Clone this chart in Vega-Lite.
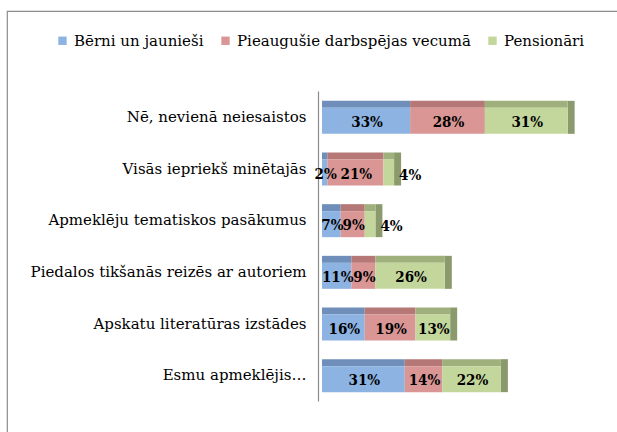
{
  "$schema": "https://vega.github.io/schema/vega-lite/v6.json",
  "width": 620,
  "height": 430,
  "autosize": "none",
  "padding": {"left": 7, "top": 11, "right": 0, "bottom": 0},
  "background": "white",
  "config": {
    "view": {"stroke": "#8c8c8c", "strokeWidth": 1.2},
    "font": "DejaVu Serif"
  },
  "data": {
    "values": [
      {"category": "Nē, nevienā neiesaistos", "group": "Bērni un jaunieši", "value": 0.33},
      {"category": "Nē, nevienā neiesaistos", "group": "Pieaugušie darbspējas vecumā", "value": 0.28},
      {"category": "Nē, nevienā neiesaistos", "group": "Pensionāri", "value": 0.31},
      {"category": "Visās iepriekš minētajās", "group": "Bērni un jaunieši", "value": 0.02},
      {"category": "Visās iepriekš minētajās", "group": "Pieaugušie darbspējas vecumā", "value": 0.21},
      {"category": "Visās iepriekš minētajās", "group": "Pensionāri", "value": 0.04},
      {"category": "Apmeklēju tematiskos pasākumus", "group": "Bērni un jaunieši", "value": 0.07},
      {"category": "Apmeklēju tematiskos pasākumus", "group": "Pieaugušie darbspējas vecumā", "value": 0.09},
      {"category": "Apmeklēju tematiskos pasākumus", "group": "Pensionāri", "value": 0.04},
      {"category": "Piedalos tikšanās reizēs ar autoriem", "group": "Bērni un jaunieši", "value": 0.11},
      {"category": "Piedalos tikšanās reizēs ar autoriem", "group": "Pieaugušie darbspējas vecumā", "value": 0.09},
      {"category": "Piedalos tikšanās reizēs ar autoriem", "group": "Pensionāri", "value": 0.26},
      {"category": "Apskatu literatūras izstādes", "group": "Bērni un jaunieši", "value": 0.16},
      {"category": "Apskatu literatūras izstādes", "group": "Pieaugušie darbspējas vecumā", "value": 0.19},
      {"category": "Apskatu literatūras izstādes", "group": "Pensionāri", "value": 0.13},
      {"category": "Esmu apmeklējis…", "group": "Bērni un jaunieši", "value": 0.31},
      {"category": "Esmu apmeklējis…", "group": "Pieaugušie darbspējas vecumā", "value": 0.14},
      {"category": "Esmu apmeklējis…", "group": "Pensionāri", "value": 0.22}
    ]
  },
  "transform": [
    {"calculate": "indexof(['Bērni un jaunieši','Pieaugušie darbspējas vecumā','Pensionāri'], datum.group)", "as": "ord"},
    {"stack": "value", "groupby": ["category"], "sort": [{"field": "ord", "order": "ascending"}], "as": ["x0", "x1"]},
    {"calculate": "(datum.x0 + datum.x1) / 2", "as": "xm"}
  ],
  "encoding": {
    "y": {
      "field": "category",
      "type": "nominal",
      "sort": null,
      "scale": {"range": [80, 390], "paddingInner": 0, "paddingOuter": 0},
      "axis": {
        "title": null,
        "orient": "left",
        "offset": -311,
        "ticks": false,
        "domainColor": "#8c8c8c",
        "domainWidth": 1.2,
        "labelPadding": 12,
        "labelFontSize": 15,
        "labelColor": "#000000",
        "labelLimit": 320
      }
    }
  },
  "layer": [
    {
      "transform": [{"filter": "datum.group === 'Pensionāri'"}],
      "mark": {"type": "tick", "orient": "vertical", "thickness": 7, "size": 33, "xOffset": 3.5, "yOffset": 0.5, "color": "#8a9a6c", "opacity": 1},
      "encoding": {
        "x": {"field": "x1", "type": "quantitative", "scale": {"domain": [0, 1], "range": [315, 582]}, "axis": null}
      }
    },
    {
      "mark": {"type": "bar", "size": 7, "yOffset": -12.5},
      "encoding": {
        "x": {"field": "x0", "type": "quantitative", "axis": null},
        "x2": {"field": "x1"},
        "color": {
          "field": "group",
          "type": "nominal",
          "scale": {
            "domain": ["Bērni un jaunieši", "Pieaugušie darbspējas vecumā", "Pensionāri"],
            "range": ["#6f8fba", "#b57876", "#9fb07d"]
          },
          "legend": null
        }
      }
    },
    {
      "mark": {"type": "bar", "size": 26, "yOffset": 4},
      "encoding": {
        "x": {"field": "x0", "type": "quantitative"},
        "x2": {"field": "x1"},
        "color": {
          "field": "group",
          "type": "nominal",
          "scale": {
            "domain": ["Bērni un jaunieši", "Pieaugušie darbspējas vecumā", "Pensionāri"],
            "range": ["#8db3e2", "#d99694", "#c3d69b"]
          },
          "legend": {
            "orient": "none",
            "legendX": 48,
            "legendY": 22,
            "direction": "horizontal",
            "title": null,
            "symbolType": "square",
            "symbolSize": 70,
            "symbolStrokeWidth": 0,
            "labelFontSize": 15,
            "labelColor": "#000000",
            "labelLimit": 300,
            "columnPadding": 14
          }
        }
      }
    },
    {
      "transform": [{"filter": "!(datum.group === 'Pensionāri' && datum.value < 0.06)"}],
      "mark": {"type": "text", "font": "'DejaVu Serif Condensed', 'DejaVu Serif'", "fontWeight": "bold", "fontSize": 15, "yOffset": 5, "xOffset": 1, "color": "#000000"},
      "encoding": {
        "x": {"field": "xm", "type": "quantitative"},
        "text": {"field": "value", "type": "quantitative", "format": ".0%"}
      }
    },
    {
      "transform": [{"filter": "datum.group === 'Pensionāri' && datum.value < 0.06"}],
      "mark": {"type": "text", "font": "'DejaVu Serif Condensed', 'DejaVu Serif'", "fontWeight": "bold", "fontSize": 15, "yOffset": 6, "xOffset": 5, "align": "left", "color": "#000000"},
      "encoding": {
        "x": {"field": "x1", "type": "quantitative"},
        "text": {"field": "value", "type": "quantitative", "format": ".0%"}
      }
    }
  ],
  "resolve": {"scale": {"color": "independent"}}
}
